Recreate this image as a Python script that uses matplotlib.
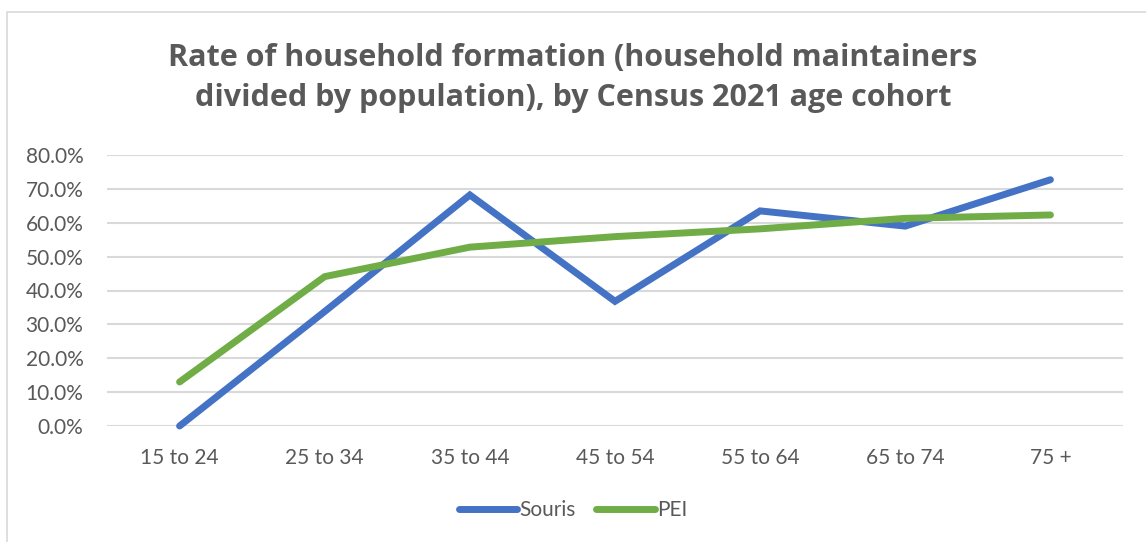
import matplotlib.pyplot as plt
import matplotlib.patches as mpatches
from matplotlib.ticker import PercentFormatter

ages = ['15 to 24', '25 to 34', '35 to 44', '45 to 54', '55 to 64', '65 to 74', '75 +']
souris = [0.0, 33.8, 68.2, 36.8, 63.5, 59.0, 72.7]
pei = [13.0, 44.1, 52.8, 55.9, 58.2, 61.3, 62.3]

gray = '#595959'
plt.rcParams['font.family'] = ['Lato', 'DejaVu Sans']

fig = plt.figure(figsize=(11.46, 5.42), dpi=100)
ax = fig.add_axes([107 / 1146, 1 - 426 / 542, (1123 - 107) / 1146, (426 - 155) / 542])

x = range(len(ages))
ax.plot(x, souris, color='#4472C4', lw=5, solid_capstyle='round', solid_joinstyle='miter', label='Souris')
ax.plot(x, pei, color='#70AD47', lw=5, solid_capstyle='round', solid_joinstyle='miter', label='PEI')

ax.set_xlim(-0.5, len(ages) - 0.5)
ax.set_ylim(0, 80)
ax.set_yticks(range(0, 81, 10))
ax.yaxis.set_major_formatter(PercentFormatter(decimals=1))
ax.set_xticks(list(x))
ax.set_xticklabels(ages)
ax.tick_params(axis='both', length=0, labelsize=15, labelcolor=gray)
ax.tick_params(axis='x', pad=16)
ax.tick_params(axis='y', pad=17)
ax.grid(axis='y', color='#D9D9D9', lw=1.5)
ax.set_axisbelow(True)
for s in ax.spines.values():
    s.set_visible(False)
for ln in ax.lines:
    ln.set_clip_on(False)

fig.text(0.5, 1 - 78 / 542, 'Rate of household formation (household maintainers\ndivided by population), by Census 2021 age cohort',
         ha='center', va='center', fontsize=22, fontweight='bold', color=gray, linespacing=1.42,
         family=['Open Sans', 'DejaVu Sans'])

leg = fig.legend(loc='center', bbox_to_anchor=(0.5, 1 - 510 / 542), ncol=2, frameon=False,
                 fontsize=15, handlelength=2.8, handletextpad=0.1, columnspacing=1.0)
for t in leg.get_texts():
    t.set_color(gray)
for h in leg.legend_handles:
    h.set_solid_capstyle('round')

fig.patches.append(mpatches.Rectangle((7 / 1146, -0.1), 1.2, 1 - 12 / 542 + 0.1, transform=fig.transFigure,
                                      fill=False, edgecolor='#D9D9D9', lw=1.2))

fig.savefig('out.png', dpi=100)
